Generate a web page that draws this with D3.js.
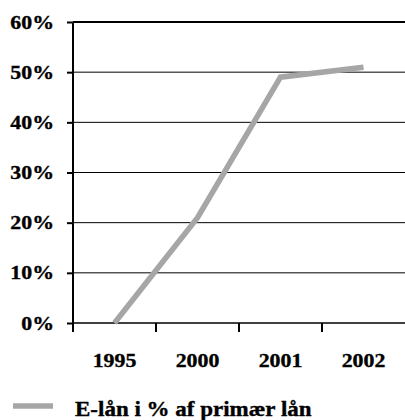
<!DOCTYPE html>
<html>
<head>
<meta charset="utf-8">
<script src="https://cdn.jsdelivr.net/npm/d3@7"></script>
<style>
  body { margin: 0; background: #fff; }
  text { font-family: 'Liberation Serif', 'Times New Roman', serif; font-weight: bold; stroke: #000; stroke-width: 0.35px; }
</style>
</head>
<body>
<svg width="405" height="420"></svg>
<script>
// data
const years = ['1995', '2000', '2001', '2002'];
const shares = [0, 21, 49, 51];
const yTicks = [0, 10, 20, 30, 40, 50, 60];
const seriesName = 'E-lån i % af primær lån';

const svg = d3.select('svg');
const stretch = 1.15; // the original text is a bit wide

const x = d3.scaleBand().domain(years).range([73, 405]);
const y = d3.scaleLinear().domain([0, 60]).range([323, 22]);

// gridlines
svg.append('g')
  .selectAll('line')
  .data(yTicks.filter((d) => d > 0 && d < 60))
  .join('line')
  .attr('x1', 73)
  .attr('x2', 405)
  .attr('y1', (d) => y(d))
  .attr('y2', (d) => y(d))
  .attr('stroke', '#000')
  .attr('stroke-width', 1);

// top border
svg.append('line')
  .attr('x1', 73).attr('x2', 405)
  .attr('y1', y(60)).attr('y2', y(60))
  .attr('stroke', '#000').attr('stroke-width', 2);

// y axis
const yAxis = svg.append('g')
  .attr('transform', 'translate(73,0)')
  .call(d3.axisLeft(y).tickValues(yTicks).tickSize(6).tickFormat(''));
yAxis.select('.domain').attr('stroke-width', 2).attr('d', 'M0,' + y(60) + 'V' + y(0));
yAxis.selectAll('.tick line').attr('stroke-width', 2);

svg.append('g')
  .selectAll('text')
  .data(yTicks)
  .join('text')
  .attr('transform', (d) => 'translate(54,' + (y(d) + 6.5) + ') scale(' + stretch + ',1)')
  .attr('text-anchor', 'end')
  .attr('font-size', 19)
  .text((d) => d + '%');

// x axis
const xAxis = svg.append('g')
  .attr('transform', 'translate(0,' + y(0) + ')')
  .call(d3.axisBottom(x).tickSize(0).tickFormat(''));
xAxis.select('.domain').attr('stroke-width', 1.5).attr('d', 'M73,0H405');
xAxis.selectAll('.tick').remove();

// x ticks at band boundaries
svg.append('g')
  .selectAll('line')
  .data(years)
  .join('line')
  .attr('x1', (d) => x(d))
  .attr('x2', (d) => x(d))
  .attr('y1', y(0))
  .attr('y2', y(0) + 9)
  .attr('stroke', '#000')
  .attr('stroke-width', 2);

svg.append('g')
  .selectAll('text')
  .data(years)
  .join('text')
  .attr('transform', (d) => 'translate(' + (x(d) + x.bandwidth() / 2) + ',367) scale(' + stretch + ',1)')
  .attr('text-anchor', 'middle')
  .attr('font-size', 19)
  .text((d) => d);

// the series
const line = d3.line()
  .x((d, i) => x(years[i]) + x.bandwidth() / 2)
  .y((d) => y(d));

svg.append('path')
  .datum(shares)
  .attr('d', line)
  .attr('fill', 'none')
  .attr('stroke', '#a6a6a6')
  .attr('stroke-width', 5.5);

// legend
svg.append('line')
  .attr('x1', 13).attr('x2', 53)
  .attr('y1', 406).attr('y2', 406)
  .attr('stroke', '#a6a6a6').attr('stroke-width', 5.5);

svg.append('text')
  .attr('transform', 'translate(75,416) scale(' + stretch + ',1)')
  .attr('font-size', 20)
  .text(seriesName);
</script>
</body>
</html>
